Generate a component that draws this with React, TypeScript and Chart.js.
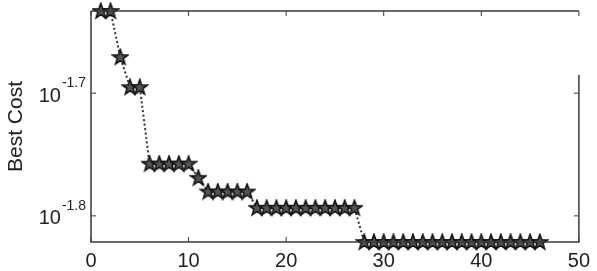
import React, { useEffect, useRef } from "react";
import { Chart, registerables } from "chart.js";

Chart.register(...registerables);

const iterations: number[] = Array.from({ length: 46 }, (_, i) => i + 1);
const bestCost: number[] = [
  0.02328, 0.02328, 0.02135, 0.02018, 0.02018,
  0.01748, 0.01748, 0.01748, 0.01748, 0.01748,
  0.01702,
  0.01659, 0.01659, 0.01659, 0.01659, 0.01659,
  0.01609, 0.01609, 0.01609, 0.01609, 0.01609, 0.01609, 0.01609, 0.01609, 0.01609, 0.01609, 0.01609,
  0.01509, 0.01509, 0.01509, 0.01509, 0.01509, 0.01509, 0.01509, 0.01509, 0.01509, 0.01509,
  0.01509, 0.01509, 0.01509, 0.01509, 0.01509, 0.01509, 0.01509, 0.01509, 0.01509,
];
const xTicks: number[] = [0, 10, 20, 30, 40, 50];
const yTickExps: string[] = ["-1.8", "-1.7"];
const yTickValues: number[] = [Math.pow(10, -1.8), Math.pow(10, -1.7)];

function makeStar(): HTMLCanvasElement {
  const c = document.createElement("canvas");
  c.width = 18;
  c.height = 18;
  const ctx = c.getContext("2d")!;
  const cx = 9, cy = 9.4, R = 8, r = 3.2;
  ctx.beginPath();
  for (let i = 0; i < 10; i++) {
    const rad = i % 2 === 0 ? R : r;
    const a = -Math.PI / 2 + (i * Math.PI) / 5;
    const px = cx + rad * Math.cos(a);
    const py = cy + rad * Math.sin(a);
    if (i === 0) ctx.moveTo(px, py);
    else ctx.lineTo(px, py);
  }
  ctx.closePath();
  ctx.fillStyle = "#555";
  ctx.fill();
  ctx.lineWidth = 1.6;
  ctx.strokeStyle = "#111";
  ctx.stroke();
  return c;
}

const boxPlugin = {
  id: "matlabBox",
  afterDraw(chart: any) {
    const { ctx, chartArea } = chart;
    const { left, right, top, bottom } = chartArea;
    const xs = chart.scales.x;
    const ys = chart.scales.y;
    ctx.save();
    ctx.strokeStyle = "#3a3a3a";
    ctx.lineWidth = 1.5;
    ctx.beginPath();
    ctx.moveTo(left, top);
    ctx.lineTo(right, top);
    ctx.moveTo(left, top);
    ctx.lineTo(left, bottom);
    ctx.lineTo(right, bottom);
    ctx.lineTo(right, top + 64);
    ctx.stroke();
    ctx.lineWidth = 1;
    ctx.beginPath();
    const tl = 5;
    for (const v of xTicks) {
      const px = xs.getPixelForValue(v);
      ctx.moveTo(px, bottom);
      ctx.lineTo(px, bottom - tl);
      ctx.moveTo(px, top);
      ctx.lineTo(px, top + tl);
    }
    for (const v of yTickValues) {
      const py = ys.getPixelForValue(v);
      ctx.moveTo(left, py);
      ctx.lineTo(left + tl, py);
      ctx.moveTo(right, py);
      ctx.lineTo(right - tl, py);
    }
    ctx.stroke();
    ctx.fillStyle = "#222";
    ctx.textBaseline = "middle";
    yTickValues.forEach((v, i) => {
      const py = ys.getPixelForValue(v);
      ctx.font = "14px 'Liberation Sans', Arial, sans-serif";
      const supW = ctx.measureText(yTickExps[i]).width;
      const supX = left - 5 - supW;
      ctx.textAlign = "left";
      ctx.fillText(yTickExps[i], supX, py - 10);
      ctx.font = "20px 'Liberation Sans', Arial, sans-serif";
      ctx.textAlign = "right";
      ctx.fillText("10", supX - 1, py + 3);
    });
    ctx.restore();
  },
};

export default function App() {
  const ref = useRef<HTMLCanvasElement | null>(null);
  useEffect(() => {
    document.body.style.margin = "0";
    const star = makeStar();
    const chart = new Chart(ref.current!, {
      type: "line",
      data: {
        datasets: [
          {
            data: iterations.map((x, i) => ({ x, y: bestCost[i] })),
            borderColor: "#333",
            borderWidth: 2,
            borderDash: [2, 2.5],
            pointStyle: star as any,
            pointRadius: 9,
            pointHoverRadius: 9,
            fill: false,
            tension: 0,
            clip: false as any,
          },
        ],
      },
      options: {
        animation: false,
        responsive: false,
        devicePixelRatio: 1,
        layout: { padding: { left: 0, right: 14, top: 11, bottom: 0 } },
        plugins: { legend: { display: false }, tooltip: { enabled: false } },
        scales: {
          x: {
            type: "linear",
            min: 0,
            max: 50,
            grid: { display: false, drawTicks: false },
            border: { display: false },
            afterBuildTicks: (s: any) => {
              s.ticks = xTicks.map((v) => ({ value: v }));
            },
            afterFit: (s: any) => {
              s.height = 29;
            },
            ticks: {
              padding: 7,
              color: "#222",
              maxRotation: 0,
              autoSkip: false,
              font: { family: "'Liberation Sans', Arial, sans-serif", size: 20 },
            },
          },
          y: {
            type: "logarithmic",
            min: bestCost[bestCost.length - 1],
            max: bestCost[0],
            grid: { display: false, drawTicks: false },
            border: { display: false },
            afterBuildTicks: (s: any) => {
              s.ticks = yTickValues.map((v) => ({ value: v }));
            },
            afterFit: (s: any) => {
              s.width = 91;
            },
            ticks: { display: false },
            title: {
              display: true,
              text: "Best Cost",
              color: "#222",
              padding: { top: 4, bottom: 0 },
              font: { family: "'Liberation Sans', Arial, sans-serif", size: 21 },
            },
          },
        },
      },
      plugins: [boxPlugin],
    });
    return () => chart.destroy();
  }, []);
  return (
    <div style={{ width: 597, height: 271 }}>
      <canvas ref={ref} width={597} height={271} />
    </div>
  );
}
